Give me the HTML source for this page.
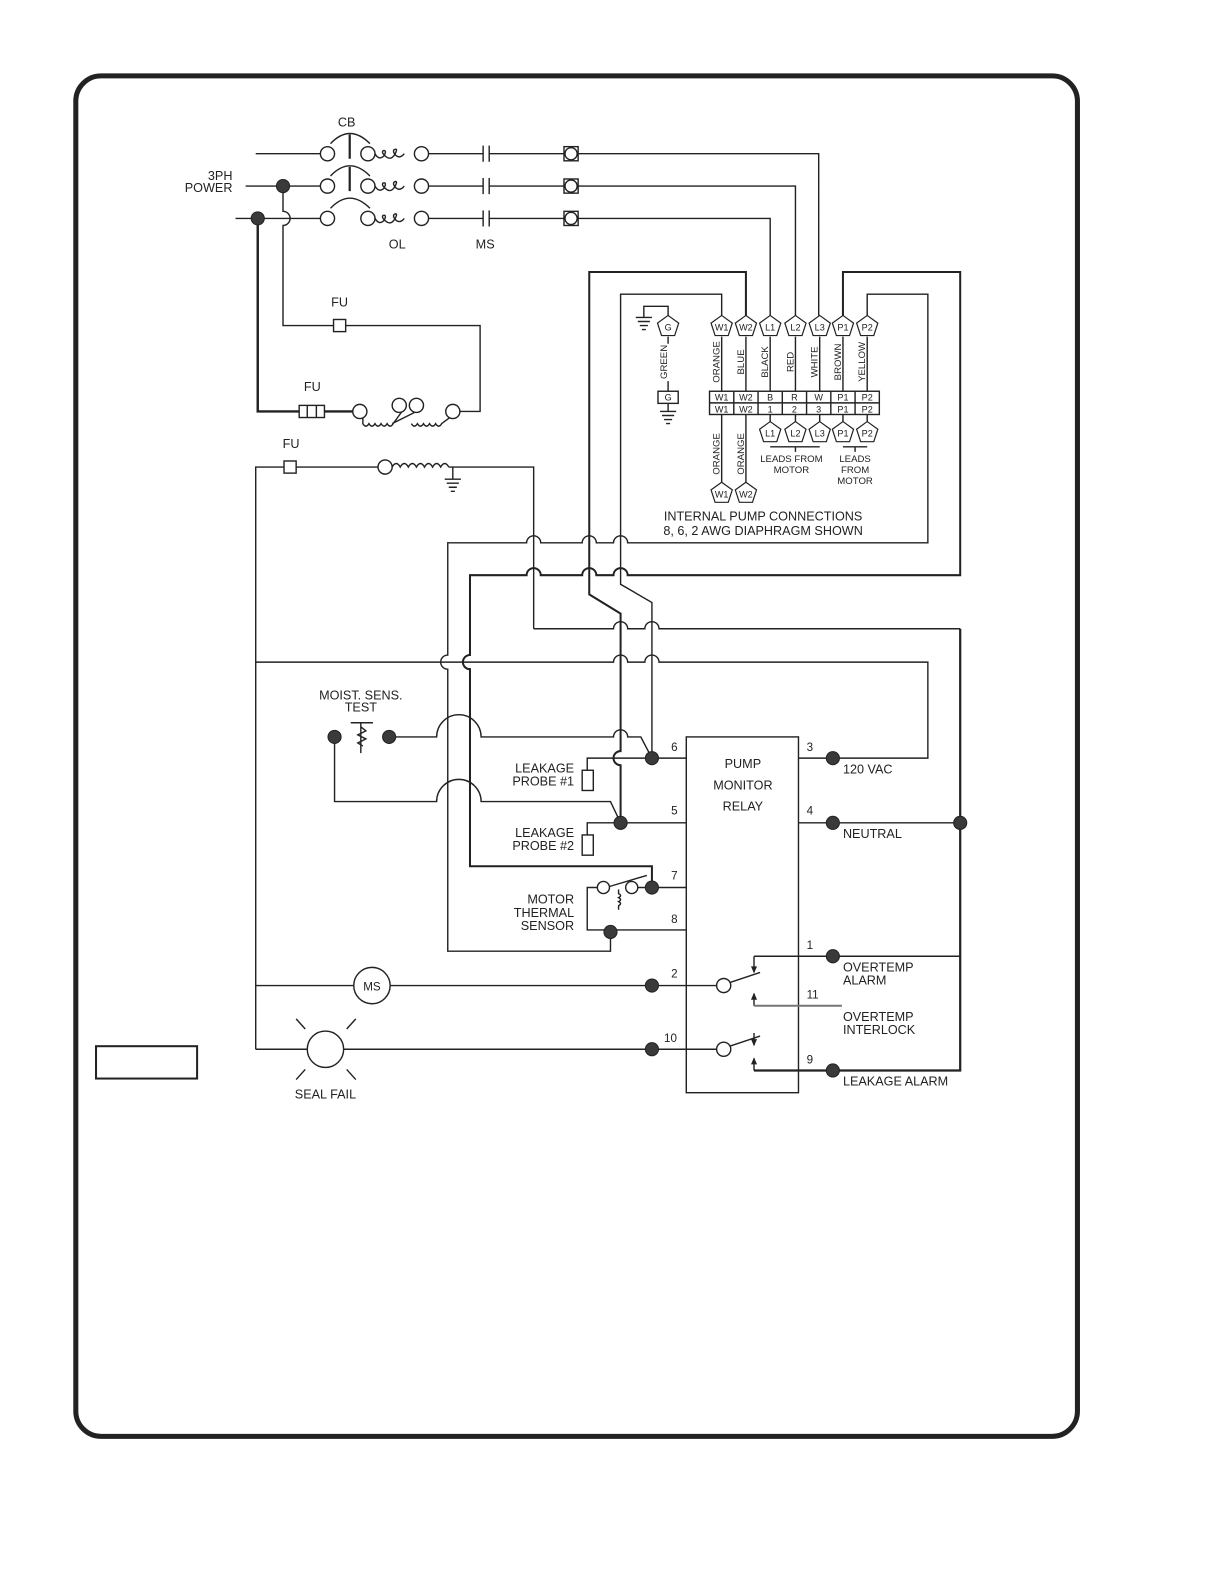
<!DOCTYPE html>
<html><head><meta charset="utf-8"><style>
html,body{margin:0;padding:0;background:#fff;}
svg{display:block;}
text{font-family:"Liberation Sans",sans-serif;fill:#222;}
</style></head><body>
<svg width="1224" height="1584" viewBox="0 0 1211 1567" xmlns="http://www.w3.org/2000/svg">
<defs>
<polygon id="pg" points="0,-11 10.5,-3.4 6.5,8.9 -6.5,8.9 -10.5,-3.4" fill="#fff" stroke="#222" stroke-width="1.2"/>
</defs>
<rect x="75" y="75" width="991" height="1346" rx="25" ry="25" fill="none" stroke="#222" stroke-width="5"/>
<rect x="95" y="1035" width="100" height="32" fill="none" stroke="#222" stroke-width="2"/>

<g fill="none" stroke="#222" stroke-width="1.4">
<path d="M253,152 H317 M243,184 H317 M233,216 H317"/>
<circle cx="324" cy="152" r="7"/><circle cx="324" cy="184" r="7"/><circle cx="324" cy="216" r="7"/>
<circle cx="364" cy="152" r="7"/><circle cx="364" cy="184" r="7"/><circle cx="364" cy="216" r="7"/>
<path d="M327,142 Q346,122 366,142 M327,174 Q346,154 366,174 M327,206 Q346,186 366,206"/>
<path d="M346,133 V157 M346,165 V189" stroke-width="2.2"/>
<g id="ol"><path d="M371,152 q4,7 9,2 q3,-6 -1,-5 q-2,2 3,6 q5,4 9,-3 q3,-6 -1,-4 q-2,2 2,6 q4,3 8,-2"/></g>
<use href="#ol" y="32"/><use href="#ol" y="64"/>
<circle cx="417" cy="152" r="7"/><circle cx="417" cy="184" r="7"/><circle cx="417" cy="216" r="7"/>
<path d="M424,152 H478 M484,152 H558 M424,184 H478 M484,184 H558 M424,216 H478 M484,216 H558"/>
<path d="M478,144 V160 M484,144 V160 M478,176 V192 M484,176 V192 M478,208 V224 M484,208 V224"/>
<rect x="558" y="145" width="14" height="14"/><circle cx="565" cy="152" r="6"/>
<rect x="558" y="177" width="14" height="14"/><circle cx="565" cy="184" r="6"/>
<rect x="558" y="209" width="14" height="14"/><circle cx="565" cy="216" r="6"/>
<path d="M572,152 H810 V312 M572,184 H787 V312 M572,216 H762 V312"/>

<path d="M280,184 V209 a7 7 0 0 1 0 14 V322 H330 M342,322 H475 V407 H455"/>
<rect x="330" y="316" width="12" height="12"/>
<path d="M255,216 V407 H296 M321,407 H349" stroke-width="2.4"/>
<rect x="296" y="401" width="25" height="12"/><path d="M304,401 V413 M313,401 V413"/>
<circle cx="356" cy="407" r="7"/><circle cx="448" cy="407" r="7"/>
<circle cx="395" cy="401" r="7"/><circle cx="412" cy="401" r="7"/>
<path d="M359,413 V419 q3,5 6,0 q3,5 6,0 q3,5 6,0 q3,5 6,0 q3,5 6,0 L397,408 M410,408 L388,419 M407,419 q3,5 6,0 q3,5 6,0 q3,5 6,0 q3,5 6,0 q3,5 6,0 L445,413"/>
<path d="M253,1038 V462 H281 M293,462 H374"/>
<rect x="281" y="456" width="12" height="12"/>
<circle cx="381" cy="462" r="7"/>
<path d="M388,462 q4,-7 8,0 q4,-7 8,0 q4,-7 8,0 q4,-7 8,0 q4,-7 8,0 q4,-7 8,0 q4,-7 8,0 M444,462 H528 V622"/>
<path d="M448,462 V474 M440,474 H456 M442,478 H454 M444,482 H452 M446,486 H450"/>

<path d="M738,312 V269 H583 V588 L614,607 V743 a7 7 0 0 0 0 14 V814" stroke-width="2"/>
<path d="M714,312 V291 H614 V578 L645,596 V750"/>
<path d="M858,312 V291 H918 V537 H621 a7 7 0 0 0 -14 0 H590 a7 7 0 0 0 -14 0 H535 a7 7 0 0 0 -14 0 H443 V648 a7 7 0 0 0 0 14 V941 H604 V922"/>
<path d="M834,312 V269 H950 V569 H621 a7 7 0 0 0 -14 0 H590 a7 7 0 0 0 -14 0 H535 a7 7 0 0 0 -14 0 H465 V648 a7 7 0 0 0 0 14 V857 H645 V878" stroke-width="2"/>
<path d="M528,622 H607 a7 7 0 0 1 14 0 H638 a7 7 0 0 1 14 0 H950 M746,1059 V1047"/>
<path d="M950,622 V1059 H746" stroke-width="2.2"/>
<path d="M253,655 H607 a7 7 0 0 1 14 0 H638 a7 7 0 0 1 14 0 H918 V750 H790"/>

<path d="M661,312 V303 H637 V314 M629,314 H645 M631,318 H643 M633,322 H641 M635,326 H639"/>
<path d="M661,333 V340 M661,377 V387 M661,399 V407 M653,407 H669 M655,411 H667 M657,415 H665 M659,419 H663"/>
<rect x="651" y="387" width="20" height="12"/>
<path d="M714,333 V387 M738,333 V387 M762,333 V387 M787,333 V387 M811,333 V387 M834,333 V387 M858,333 V387"/>
<rect x="702" y="387" width="168" height="23"/>
<path d="M702,398.5 H870 M726,387 V410 M750,387 V410 M774,387 V410 M798,387 V410 M822,387 V410 M846,387 V410"/>
<path d="M714,410 V477 M738,410 V477 M762,410 V417 M787,410 V417 M811,410 V417 M834,410 V417 M858,410 V417"/>
<path d="M762,442 H811 M787,442 V447 M834,442 H858 M846,442 V447"/>

<path d="M385,729 H432 A22 22 0 0 1 476,729 H607 a7 7 0 0 1 14 0 H634 L645,750"/>
<path d="M331,729 V793 H432 A22 22 0 0 1 476,793 H604 L614,814"/>
<path d="M347,715 H369 M357,715 V745 M357,719 l5,4 l-8,4 l8,4 l-8,4 l5,3" />

<path d="M679,750 H581 V762 M679,814 H581 V826"/>
<rect x="576" y="762" width="11" height="20"/><rect x="576" y="826" width="11" height="20"/>
<rect x="679" y="729" width="111" height="352"/>
<path d="M790,814 H950"/>
<path d="M645,878 H679 M631,878 H645 M603,877 L640,866 M591,878 H581 V920 H679"/>
<circle cx="597" cy="878" r="6"/><circle cx="625" cy="878" r="6"/>
<path d="M612,880 V884 q4,2 0,4 q4,2 0,4 q4,2 0,4 V900"/>

<path d="M253,975 H350 M386,975 H709"/>
<circle cx="368" cy="975" r="18"/>
<path d="M253,1038 H304 M340,1038 H709"/>
<circle cx="322" cy="1038" r="18"/>
<path d="M293,1008 L302,1018 M352,1008 L343,1018 M293,1068 L302,1058 M352,1068 L343,1058"/>
<circle cx="716" cy="975" r="7"/><circle cx="716" cy="1038" r="7"/>
<path d="M722,972 L752,962 M722,1035 L752,1025"/>
<path d="M746,946 H950 M746,946 V962 M746,1022 V1034 M746,995 V983"/>
<path d="M746,995 H833" stroke="#777" stroke-width="2"/>
</g>
<g fill="#222">
<path d="M743,956 L749,956 L746,963 Z M743,1028 L749,1028 L746,1035 Z M743,989 L749,989 L746,982 Z M743,1053 L749,1053 L746,1046 Z"/>
</g>

<g fill="#3a3a3a" stroke="#222" stroke-width="1">
<circle cx="280" cy="184" r="6.5"/><circle cx="255" cy="216" r="6.5"/>
<circle cx="331" cy="729" r="6.5"/><circle cx="385" cy="729" r="6.5"/>
<circle cx="645" cy="750" r="6.5"/><circle cx="614" cy="814" r="6.5"/>
<circle cx="645" cy="878" r="6.5"/><circle cx="604" cy="922" r="6.5"/>
<circle cx="645" cy="975" r="6.5"/><circle cx="645" cy="1038" r="6.5"/>
<circle cx="824" cy="750" r="6.5"/><circle cx="824" cy="814" r="6.5"/>
<circle cx="824" cy="946" r="6.5"/><circle cx="824" cy="1059" r="6.5"/>
<circle cx="950" cy="814" r="6.5"/>
</g>

<g font-size="9" text-anchor="middle">
<use href="#pg" x="661" y="323"/><text x="661" y="327">G</text>
<use href="#pg" x="714" y="323"/><text x="714" y="327">W1</text>
<use href="#pg" x="738" y="323"/><text x="738" y="327">W2</text>
<use href="#pg" x="762" y="323"/><text x="762" y="327">L1</text>
<use href="#pg" x="787" y="323"/><text x="787" y="327">L2</text>
<use href="#pg" x="811" y="323"/><text x="811" y="327">L3</text>
<use href="#pg" x="834" y="323"/><text x="834" y="327">P1</text>
<use href="#pg" x="858" y="323"/><text x="858" y="327">P2</text>
<use href="#pg" x="762" y="428"/><text x="762" y="432">L1</text>
<use href="#pg" x="787" y="428"/><text x="787" y="432">L2</text>
<use href="#pg" x="811" y="428"/><text x="811" y="432">L3</text>
<use href="#pg" x="834" y="428"/><text x="834" y="432">P1</text>
<use href="#pg" x="858" y="428"/><text x="858" y="432">P2</text>
<use href="#pg" x="714" y="488"/><text x="714" y="492">W1</text>
<use href="#pg" x="738" y="488"/><text x="738" y="492">W2</text>
<text x="661" y="396">G</text>
<text x="714" y="396">W1</text><text x="738" y="396">W2</text><text x="762" y="396">B</text><text x="786" y="396">R</text><text x="810" y="396">W</text><text x="834" y="396">P1</text><text x="858" y="396">P2</text>
<text x="714" y="408">W1</text><text x="738" y="408">W2</text><text x="762" y="408">1</text><text x="786" y="408">2</text><text x="810" y="408">3</text><text x="834" y="408">P1</text><text x="858" y="408">P2</text>
</g>
<g font-size="9.5" text-anchor="middle">
<text transform="translate(660,358) rotate(-90)">GREEN</text>
<text transform="translate(712,358) rotate(-90)">ORANGE</text>
<text transform="translate(736,358) rotate(-90)">BLUE</text>
<text transform="translate(760,358) rotate(-90)">BLACK</text>
<text transform="translate(785,358) rotate(-90)">RED</text>
<text transform="translate(809,358) rotate(-90)">WHITE</text>
<text transform="translate(832,358) rotate(-90)">BROWN</text>
<text transform="translate(856,358) rotate(-90)">YELLOW</text>
<text transform="translate(712,449) rotate(-90)">ORANGE</text>
<text transform="translate(736,449) rotate(-90)">ORANGE</text>
<text x="783" y="457">LEADS FROM</text><text x="783" y="468">MOTOR</text>
<text x="846" y="457">LEADS</text><text x="846" y="468">FROM</text><text x="846" y="479">MOTOR</text>
</g>
<g font-size="12.5">
<text x="755" y="515" text-anchor="middle">INTERNAL PUMP CONNECTIONS</text>
<text x="755" y="529" text-anchor="middle">8, 6, 2 AWG DIAPHRAGM SHOWN</text>
<text x="343" y="125" text-anchor="middle">CB</text>
<text x="230" y="178" text-anchor="end">3PH</text><text x="230" y="190" text-anchor="end">POWER</text>
<text x="393" y="246" text-anchor="middle">OL</text><text x="480" y="246" text-anchor="middle">MS</text>
<text x="336" y="303" text-anchor="middle">FU</text><text x="309" y="387" text-anchor="middle">FU</text><text x="288" y="443" text-anchor="middle">FU</text>
<text x="357" y="692" text-anchor="middle">MOIST. SENS.</text><text x="357" y="704" text-anchor="middle">TEST</text>
<text x="568" y="764" text-anchor="end">LEAKAGE</text><text x="568" y="777" text-anchor="end">PROBE #1</text>
<text x="568" y="828" text-anchor="end">LEAKAGE</text><text x="568" y="841" text-anchor="end">PROBE #2</text>
<text x="568" y="894" text-anchor="end">MOTOR</text><text x="568" y="907" text-anchor="end">THERMAL</text><text x="568" y="920" text-anchor="end">SENSOR</text>
<text x="735" y="760" text-anchor="middle">PUMP</text><text x="735" y="781" text-anchor="middle">MONITOR</text><text x="735" y="802" text-anchor="middle">RELAY</text>
<text x="368" y="980" text-anchor="middle" font-size="11.5">MS</text>
<text x="322" y="1087" text-anchor="middle">SEAL FAIL</text>
<text x="834" y="765">120 VAC</text>
<text x="834" y="829">NEUTRAL</text>
<text x="834" y="961">OVERTEMP</text><text x="834" y="974">ALARM</text>
<text x="834" y="1010">OVERTEMP</text><text x="834" y="1023">INTERLOCK</text>
<text x="834" y="1074">LEAKAGE ALARM</text>
</g>
<g font-size="11.5">
<text x="664" y="743">6</text><text x="664" y="806">5</text><text x="664" y="870">7</text><text x="664" y="913">8</text>
<text x="664" y="967">2</text><text x="657" y="1031">10</text>
<text x="798" y="743">3</text><text x="798" y="806">4</text><text x="798" y="939">1</text><text x="798" y="988">11</text><text x="798" y="1052">9</text>
</g>
</svg>
</body></html>
